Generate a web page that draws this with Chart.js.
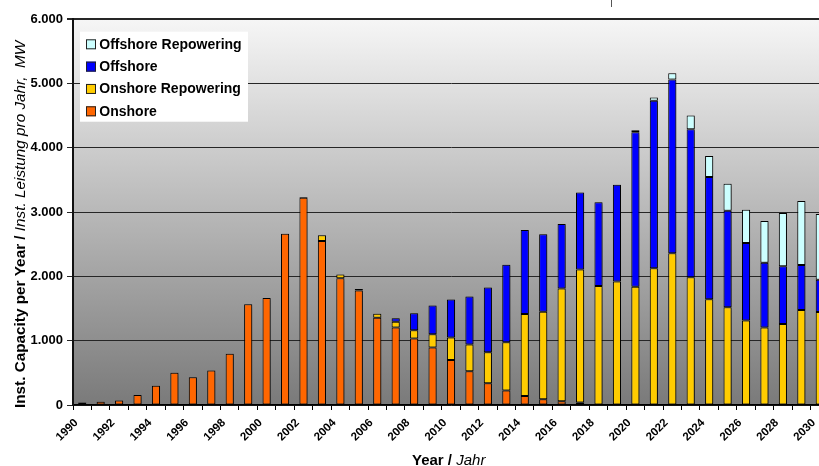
<!DOCTYPE html>
<html>
<head>
<meta charset="utf-8">
<script src="https://cdn.jsdelivr.net/npm/chart.js@4.4.1/dist/chart.umd.min.js"></script>
<style>
  html, body { margin: 0; padding: 0; background: #fff; overflow: hidden; }
  #wrap { width: 819px; height: 466px; overflow: hidden; }
  canvas { display: block; }
</style>
</head>
<body>
<div id="wrap"><canvas id="chart" width="840" height="466"></canvas></div>
<script>
const years = ["1990","1991","1992","1993","1994","1995","1996","1997","1998","1999",
  "2000","2001","2002","2003","2004","2005","2006","2007","2008","2009",
  "2010","2011","2012","2013","2014","2015","2016","2017","2018","2019",
  "2020","2021","2022","2023","2024","2025","2026","2027","2028","2029","2030"];

// MW per year
const onshore = [40,50,70,155,300,500,430,535,795,1565,
  1665,2660,3220,2550,1970,1780,1355,1205,1035,895,
  700,525,340,225,140,90,60,40,0,0,
  0,0,0,0,0,0,0,0,0,0,0];
const onshoreRepowering = [0,0,0,0,0,0,0,0,0,0,
  0,0,15,90,60,25,65,90,125,205,
  350,415,480,750,1275,1360,1750,2065,1850,1920,
  1840,2125,2360,1985,1645,1520,1315,1205,1260,1475,1445];
const offshore = [0,0,0,0,0,0,0,0,0,0,
  0,0,0,0,0,0,0,55,265,445,
  590,745,1005,1205,1305,1205,1005,1200,1300,1505,
  2400,2605,2700,2300,1900,1500,1205,1005,895,700,500];
const offshoreRepowering = [0,0,0,0,0,0,0,0,0,0,
  0,0,0,0,0,0,0,0,0,0,
  0,0,0,0,0,0,0,0,0,0,
  30,50,95,215,325,420,515,650,830,995,1025];

const yTickLabels = ["0","1.000","2.000","3.000","4.000","5.000","6.000"];
const yTitleBold = "Inst. Capacity per Year / ";
const yTitleItalic = "Inst. Leistung pro Jahr,  MW";
const xTitleBold = "Year / ";
const xTitleItalic = "Jahr";

const FONT = '"Liberation Sans", Arial, sans-serif';
const noZero = arr => arr.map(v => (v === 0 ? null : v));

// gray gradient behind the plot
const plotBackground = {
  id: "plotBackground",
  beforeDraw(chart) {
    const { ctx, chartArea: a } = chart;
    const g = ctx.createLinearGradient(0, a.top, 0, a.bottom);
    g.addColorStop(0, "#f6f6f6");
    g.addColorStop(1, "#7a7a7a");
    ctx.save();
    ctx.fillStyle = g;
    ctx.fillRect(a.left, a.top, a.right - a.left, a.bottom - a.top);
    ctx.restore();
  }
};

// soft drop shadow on the bars
const barShadow = {
  id: "barShadow",
  beforeDatasetsDraw(chart) {
    const ctx = chart.ctx;
    ctx.save();
    ctx.shadowColor = "rgba(0,0,0,0.45)";
    ctx.shadowBlur = 3;
    ctx.shadowOffsetX = 1.5;
    ctx.shadowOffsetY = 1;
  },
  afterDatasetsDraw(chart) {
    chart.ctx.restore();
  }
};

// legend box inside the plot + the two mixed-style axis titles
const decorations = {
  id: "decorations",
  afterDraw(chart) {
    const { ctx, chartArea: a } = chart;
    ctx.save();

    const x0 = a.left + 7, y0 = a.top + 12.7;
    ctx.fillStyle = "#fff";
    ctx.fillRect(x0, y0, 168, 90);
    ctx.font = "bold 14px " + FONT;
    ctx.textBaseline = "middle";
    chart.data.datasets.slice().reverse().forEach((d, i) => {
      const cy = y0 + 12.6 + i * 22.33;
      ctx.fillStyle = d.backgroundColor;
      ctx.fillRect(x0 + 6, cy - 5, 10, 10);
      ctx.strokeStyle = "#222";
      ctx.lineWidth = 1;
      ctx.strokeRect(x0 + 6.5, cy - 4.5, 9, 9);
      ctx.fillStyle = "#000";
      ctx.fillText(d.label, x0 + 19.3, cy + 0.5);
    });

    // y title
    ctx.translate(25, 408);
    ctx.rotate(-Math.PI / 2);
    ctx.textBaseline = "alphabetic";
    ctx.textAlign = "left";
    ctx.font = "bold 15.3px " + FONT;
    ctx.fillText(yTitleBold, 0, 0);
    const w1 = ctx.measureText(yTitleBold).width;
    ctx.font = "italic 15.3px " + FONT;
    ctx.fillText(yTitleItalic, w1, 0);
    ctx.setTransform(1, 0, 0, 1, 0, 0);

    // x title
    ctx.font = "bold 15px " + FONT;
    ctx.fillText(xTitleBold, 412, 465);
    const w2 = ctx.measureText(xTitleBold).width;
    ctx.font = "italic 15px " + FONT;
    ctx.fillText(xTitleItalic, 412 + w2, 465);

    // stray mark at the top edge
    ctx.fillStyle = "#555";
    ctx.fillRect(611, 0, 1, 7);
    ctx.restore();
  }
};

function makeSet(label, data, color) {
  return {
    label: label,
    data: noZero(data),
    backgroundColor: color,
    borderColor: "#000",
    borderWidth: 1,
    borderSkipped: false,
    barPercentage: 0.44,
    categoryPercentage: 1
  };
}

new Chart(document.getElementById("chart"), {
  type: "bar",
  data: {
    labels: years,
    datasets: [
      makeSet("Onshore", onshore, "#FF6600"),
      makeSet("Onshore Repowering", onshoreRepowering, "#FFCC00"),
      makeSet("Offshore", offshore, "#0000FF"),
      makeSet("Offshore Repowering", offshoreRepowering, "#CCFFFF")
    ]
  },
  options: {
    responsive: false,
    animation: false,
    layout: { padding: { top: 19, right: 11, left: 0, bottom: 0 } },
    plugins: { legend: { display: false }, tooltip: { enabled: false } },
    scales: {
      x: {
        stacked: true,
        afterFit: s => { s.height = 61; },
        grid: { display: true, drawOnChartArea: false, drawTicks: true, tickLength: 5, color: "#000", lineWidth: 1 },
        border: { display: true, color: "#000", width: 1.5 },
        ticks: {
          autoSkip: false,
          maxRotation: 45,
          minRotation: 45,
          padding: 6,
          labelOffset: -6,
          color: "#000",
          font: { family: FONT, size: 11.5, weight: "bold" },
          callback: (v, i) => (i % 2 === 0 ? years[i] : "")
        }
      },
      y: {
        stacked: true,
        min: 0,
        max: 6000,
        afterFit: s => { s.width = 73; },
        grid: {
          color: "#262626",
          lineWidth: c => (c.tick && c.tick.value === 6000 ? 2 : 1),
          tickLength: 6
        },
        border: { display: true, color: "#111", width: 2 },
        ticks: {
          stepSize: 1000,
          padding: 4,
          color: "#000",
          font: { family: FONT, size: 13, weight: "bold" },
          callback: v => yTickLabels[v / 1000]
        }
      }
    }
  },
  plugins: [plotBackground, barShadow, decorations]
});
</script>
</body>
</html>
